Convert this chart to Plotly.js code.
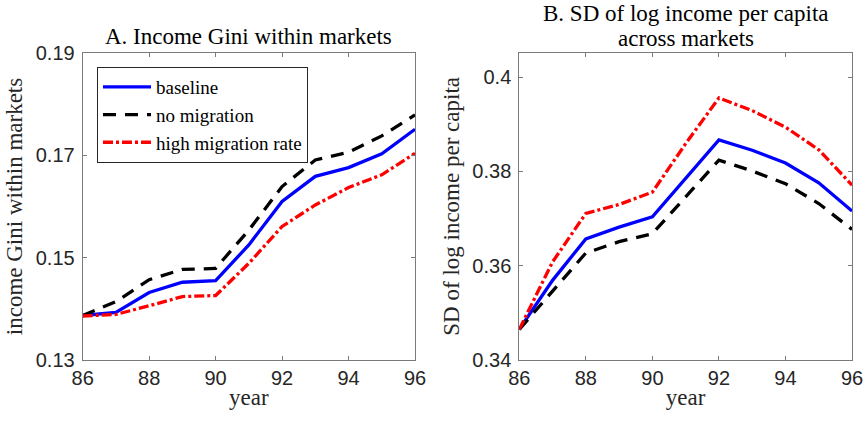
<!DOCTYPE html>
<html>
<head>
<meta charset="utf-8">
<script src="https://cdn.plot.ly/plotly-3.0.1.min.js"></script>
<style>
  html, body { margin: 0; padding: 0; background: #fff; }
  #chart { width: 863px; height: 422px; }
</style>
</head>
<body>
<div id="chart"></div>
<script>
// Years 1986-1996 (two-digit labels on the axis)
const years = [86, 87, 88, 89, 90, 91, 92, 93, 94, 95, 96];

// Panel A: income Gini within markets
const giniBaseline    = [0.1387, 0.1393, 0.1432, 0.1452, 0.1455, 0.1525, 0.1610, 0.1659, 0.1676, 0.1703, 0.1751];
const giniNoMigration = [0.1387, 0.1414, 0.1457, 0.1477, 0.1479, 0.1554, 0.1639, 0.1691, 0.1706, 0.1738, 0.1779];
const giniHighMig     = [0.1386, 0.1389, 0.1406, 0.1424, 0.1426, 0.1489, 0.1561, 0.1603, 0.1637, 0.1662, 0.1704];

// Panel B: SD of log income per capita across markets
const sdBaseline    = [0.3465, 0.3569, 0.3657, 0.3682, 0.3704, 0.3785, 0.3867, 0.3845, 0.3818, 0.3776, 0.3716];
const sdNoMigration = [0.3465, 0.3545, 0.3627, 0.3651, 0.3668, 0.3746, 0.3824, 0.3801, 0.3774, 0.3732, 0.3677];
const sdHighMig     = [0.3465, 0.3608, 0.3711, 0.3730, 0.3756, 0.3859, 0.3956, 0.3929, 0.3894, 0.3846, 0.3771];

const seriesNames = ['baseline', 'no migration', 'high migration rate'];
const panelATitle = 'A. Income Gini within markets';
const panelBTitle = ['B. SD of log income per capita', 'across markets'];
const yTitles = ['income Gini within markets', 'SD of log income per capita'];

const styles = [
  { color: '#0000ff', width: 3.3, dash: 'solid' },
  { color: '#000000', width: 3.3, dash: '13px,9px' },
  { color: '#ff0000', width: 3.3, dash: '10px,3px,3px,3px' }
];

const serif = 'Liberation Serif, Times New Roman, serif';
const sans = 'Liberation Sans, Arial, sans-serif';
const inkColor = '#262626';
const axisColor = '#7a7a7a';

function trace(y, i, xa, ya, showLegend) {
  return {
    x: years, y: y, type: 'scatter', mode: 'lines',
    name: seriesNames[i], line: styles[i],
    xaxis: xa, yaxis: ya, showlegend: showLegend,
    hoverinfo: 'skip'
  };
}

const data = [
  trace(giniBaseline, 0, 'x', 'y', true),
  trace(giniNoMigration, 1, 'x', 'y', true),
  trace(giniHighMig, 2, 'x', 'y', true),
  trace(sdBaseline, 0, 'x2', 'y2', false),
  trace(sdNoMigration, 1, 'x2', 'y2', false),
  trace(sdHighMig, 2, 'x2', 'y2', false)
];

function xAxis(domain, anchor) {
  return {
    domain: domain, anchor: anchor, range: [86, 96],
    tick0: 86, dtick: 2, ticks: 'inside', ticklen: 4, tickcolor: axisColor,
    showline: true, linecolor: axisColor, linewidth: 1, mirror: 'ticks',
    showgrid: false, zeroline: false, ticklabeloverflow: 'allow',
    tickfont: { family: sans, size: 20, color: inkColor },
    title: { text: 'year', font: { family: serif, size: 23, color: inkColor }, standoff: 0 }
  };
}

function yAxis(domain, anchor, range, tick0, title) {
  return {
    domain: domain, anchor: anchor, range: range,
    tick0: tick0, dtick: 0.02, ticks: 'inside', ticklen: 4, tickcolor: axisColor,
    showline: true, linecolor: axisColor, linewidth: 1, mirror: 'ticks',
    showgrid: false, zeroline: false, ticklabelstandoff: 3,
    tickfont: { family: sans, size: 20, color: inkColor },
    title: { text: title, font: { family: serif, size: 23, color: inkColor }, standoff: 6 }
  };
}

function titleNote(text, x, yPx) {
  return {
    text: text, xref: 'paper', yref: 'paper', x: x, y: 1 - yPx / 422,
    xanchor: 'center', yanchor: 'middle', showarrow: false,
    font: { family: serif, size: 23, color: '#000000' }
  };
}

const layout = {
  width: 863, height: 422,
  margin: { l: 0, r: 0, t: 0, b: 0 },
  paper_bgcolor: '#ffffff', plot_bgcolor: '#ffffff',
  showlegend: true,
  xaxis: xAxis([0.0958, 0.4809], 'y'),
  yaxis: yAxis([0.1469, 0.8744], 'x', [0.13, 0.19], 0.13, yTitles[0]),
  xaxis2: xAxis([0.6017, 0.9873], 'y2'),
  yaxis2: yAxis([0.1469, 0.8752], 'x2', [0.34, 0.4052], 0.34, yTitles[1]),
  legend: {
    x: 0.1124, y: 0.8412, xanchor: 'left', yanchor: 'top',
    bgcolor: '#ffffff', bordercolor: inkColor, borderwidth: 1,
    font: { family: serif, size: 19, color: '#000000' },
    itemwidth: 48, tracegroupgap: 0
  },
  annotations: [
    titleNote(panelATitle, 0.2884, 37),
    titleNote(panelBTitle[0], 0.7945, 13),
    titleNote(panelBTitle[1], 0.7945, 38)
  ]
};

Plotly.newPlot('chart', data, layout, { displayModeBar: false, staticPlot: true });
</script>
</body>
</html>
